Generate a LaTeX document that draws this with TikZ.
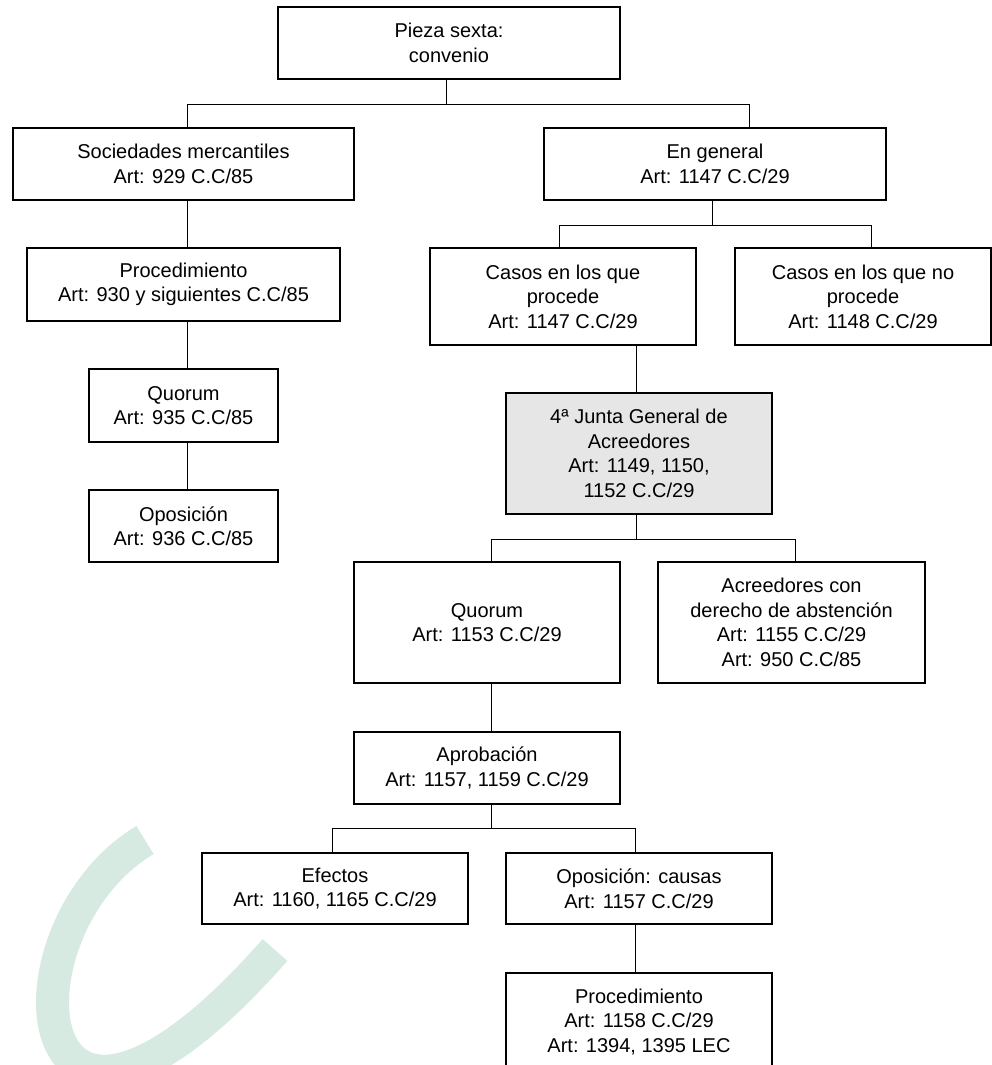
\documentclass[tikz,border=0pt]{standalone}
\usepackage{fontspec}
\setmainfont{Liberation Sans}
\definecolor{marcaverde}{RGB}{214,234,226}
\definecolor{grisjunta}{RGB}{230,230,230}
\begin{document}
\begin{tikzpicture}[x=1pt, y=-1pt,
	caja/.style={draw, line width=1.2pt, fill=white, align=center, inner sep=0pt,
		font=\fontsize{20}{24.5}\selectfont},
	cajagris/.style={caja, fill=grisjunta},
	linea/.style={line width=1pt}]
	\useasboundingbox (0,0) rectangle (992,1065);
	\draw[marcaverde, line width=33pt] (145,840) .. controls (-5,930) and (20,1240) .. (275,950);
	\node[caja, minimum width=342, minimum height=72] (top) at (449,43) {Pieza sexta:\\convenio};
	\node[caja, minimum width=341, minimum height=72] (socied) at (183.5,164) {Sociedades mercantiles\\Art: 929 C.C/85};
	\node[caja, minimum width=342, minimum height=72] (general) at (715,164) {En general\\Art: 1147 C.C/29};
	\node[caja, minimum width=313, minimum height=73] (proc1) at (183.5,284.5) {Procedimiento\\Art: 930 y siguientes C.C/85};
	\node[caja, minimum width=189, minimum height=73] (quorumA) at (183.5,405.5) {Quorum\\Art: 935 C.C/85};
	\node[caja, minimum width=189, minimum height=72] (oposA) at (183.5,526) {Oposición\\Art: 936 C.C/85};
	\node[caja, minimum width=266, minimum height=97] (casosSi) at (563,296.5) {Casos en los que\\procede\\Art: 1147 C.C/29};
	\node[caja, minimum width=256, minimum height=97] (casosNo) at (863,296.5) {Casos en los que no\\procede\\Art: 1148 C.C/29};
	\node[cajagris, minimum width=266, minimum height=121] (junta) at (639,453.5) {4ª Junta General de\\Acreedores\\Art: 1149, 1150,\\1152 C.C/29};
	\node[caja, minimum width=266, minimum height=121] (quorumB) at (487,622.5) {Quorum\\Art: 1153 C.C/29};
	\node[caja, minimum width=267, minimum height=121] (abst) at (791.5,622.5) {Acreedores con\\derecho de abstención\\Art: 1155 C.C/29\\Art: 950 C.C/85};
	\node[caja, minimum width=266, minimum height=72] (aprob) at (487,768) {Aprobación\\Art: 1157, 1159 C.C/29};
	\node[caja, minimum width=266, minimum height=71] (efectos) at (335,888.5) {Efectos\\Art: 1160, 1165 C.C/29};
	\node[caja, minimum width=266, minimum height=71] (oposB) at (639,888.5) {Oposición: causas\\Art: 1157 C.C/29};
	\node[caja, minimum width=266, minimum height=98] (procB) at (639,1022) {Procedimiento\\Art: 1158 C.C/29\\Art: 1394, 1395 LEC};
	\draw[linea] ([xshift=-3pt]top.south) -- ++(0,25) coordinate (b1);
	\draw[linea] ([xshift=3.5pt]socied.north) |- (b1) -| ([xshift=34pt]general.north);
	\draw[linea] ([xshift=3.5pt]socied.south) -- ([xshift=3.5pt]proc1.north);
	\draw[linea] ([xshift=3.5pt]proc1.south) -- ([xshift=3.5pt]quorumA.north);
	\draw[linea] ([xshift=3.5pt]quorumA.south) -- ([xshift=3.5pt]oposA.north);
	\draw[linea] ([xshift=-3pt]general.south) -- ++(0,25) coordinate (b2);
	\draw[linea] ([xshift=-4pt]casosSi.north) |- (b2) -| ([xshift=8pt]casosNo.north);
	\draw[linea] ([xshift=-3pt]junta.north) -- ([xshift=-3pt]junta.north |- casosSi.south);
	\draw[linea] ([xshift=-3pt]junta.south) -- ++(0,24.5) coordinate (b3);
	\draw[linea] ([xshift=4pt]quorumB.north) |- (b3) -| ([xshift=3.5pt]abst.north);
	\draw[linea] ([xshift=4pt]quorumB.south) -- ([xshift=4pt]aprob.north);
	\draw[linea] ([xshift=4pt]aprob.south) -- ++(0,24) coordinate (b4);
	\draw[linea] ([xshift=-3pt]efectos.north) |- (b4) -| ([xshift=-4pt]oposB.north);
	\draw[linea] ([xshift=-4pt]oposB.south) -- ([xshift=-4pt]procB.north);
\end{tikzpicture}
\end{document}
